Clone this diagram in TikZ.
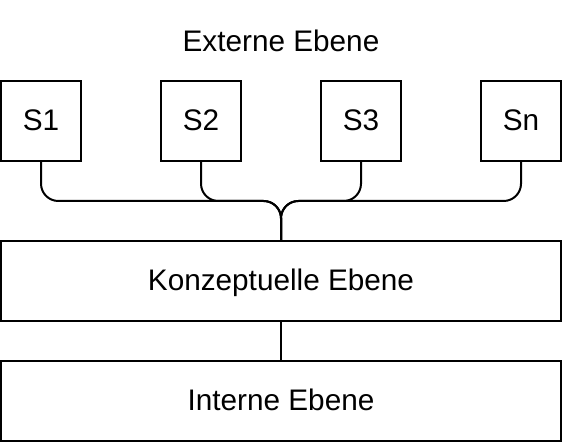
\documentclass[tikz,border=0pt]{standalone}
\usepackage{fontspec}
\setmainfont{Liberation Sans}
\begin{document}
\begin{tikzpicture}[x=0.75pt,y=-0.75pt,
  every node/.style={font=\fontsize{22.3pt}{26pt}\selectfont},
  sbox/.style={draw,line width=1.5pt,inner sep=0pt,minimum width=60pt,minimum height=60pt,text height=14.4pt,text depth=0pt},
  lbox/.style={draw,line width=1.5pt,inner sep=0pt,minimum width=420pt,minimum height=60pt,text height=14.4pt,text depth=0pt},
  conn/.style={line width=1.5pt,rounded corners=13pt}]
\useasboundingbox (0,0) rectangle (564,442);
\node[anchor=base] (ext) at (281,51.5) {Externe Ebene};
\node[sbox] (s1) at (41,121) {S1};
\node[sbox] (s2) at (201,121) {S2};
\node[sbox] (s3) at (361,121) {S3};
\node[sbox] (sn) at (521,121) {Sn};
\node[lbox] (konz) at (281,281) {Konzeptuelle Ebene};
\node[lbox] (int) at (281,401) {Interne Ebene};
\coordinate (mid) at (281,201);
\foreach \s in {s1,s2,s3,sn}
  \draw[conn] (\s.south) |- (mid) -- (konz.north);
\draw[line width=1.5pt] (konz.south) -- (int.north);
\end{tikzpicture}
\end{document}
